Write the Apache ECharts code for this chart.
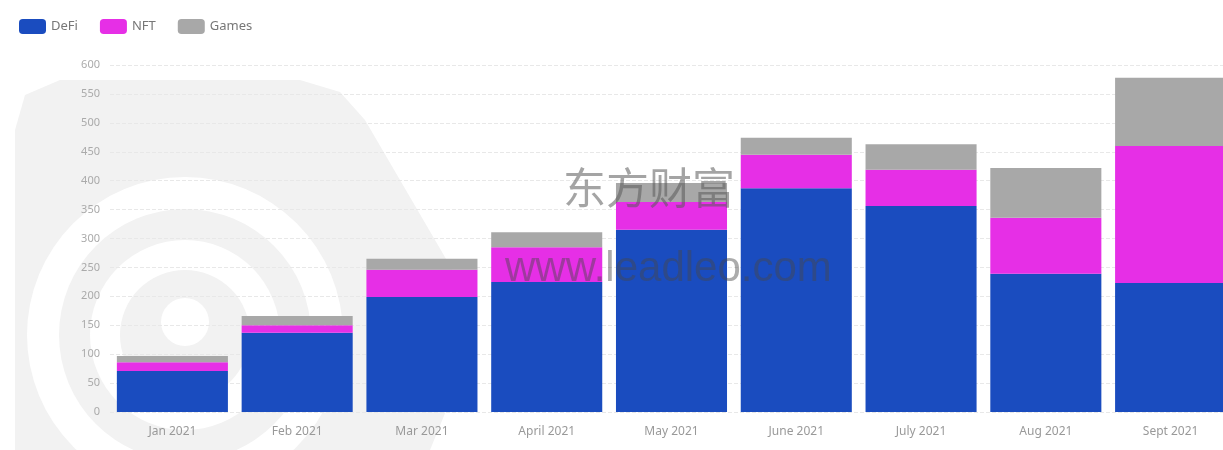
<!DOCTYPE html>
<html lang="zh">
<head>
	<meta charset="UTF-8">
	<title>DeFi NFT Games</title>
	<script src="https://cdn.jsdelivr.net/npm/echarts@6/dist/echarts.min.js"></script>
	<style>
		html, body { margin: 0; padding: 0; background: #fff; }
		#chart { width: 1223px; height: 450px; }
	</style>
</head>
<body>
	<div id="chart"></div>
	<script>
		// 数据
		var months = ['Jan 2021', 'Feb 2021', 'Mar 2021', 'April 2021', 'May 2021', 'June 2021', 'July 2021', 'Aug 2021', 'Sept 2021']
		var defi = [71, 137, 199, 225, 315, 387, 356, 239, 223]
		var nft = [15, 13, 47, 60, 48, 58, 63, 97, 237]
		var games = [11, 16, 19, 26, 33, 29, 44, 86, 118]

		var myChart = echarts.init(document.getElementById('chart'))

		var barStyle = function (name, data, color) {
			return {
				name: name,
				type: 'bar',
				stack: 'total',
				barCategoryGap: '11%',
				data: data,
				itemStyle: { color: color }
			}
		}

		var option = {
			animation: false,
			textStyle: { fontFamily: 'Noto Sans, sans-serif' },
			legend: {
				left: 14,
				top: 14,
				icon: 'roundRect',
				itemWidth: 27,
				itemHeight: 15,
				itemGap: 22,
				textStyle: { color: '#777', fontSize: 13 },
				data: ['DeFi', 'NFT', 'Games']
			},
			// 最后一根柱子被图片右边裁掉
			grid: { left: 110, right: -10, top: 65, bottom: 38, outerBoundsMode: 'none' },
			xAxis: {
				type: 'category',
				data: months,
				axisLine: { show: false },
				axisTick: { show: false },
				axisLabel: { color: '#999', fontSize: 12, margin: 14 }
			},
			yAxis: {
				type: 'value',
				min: 0,
				max: 600,
				interval: 50,
				axisLabel: { color: '#aaa', fontSize: 11, margin: 10 },
				splitLine: { lineStyle: { type: 'dashed', color: '#e8e8e8' } }
			},
			// 背景水印
			graphic: [
				{
					type: 'polygon', z: -10, silent: true,
					shape: {
						points: [[15, 130], [25, 95], [60, 80], [300, 80], [340, 92], [365, 120], [470, 300], [475, 340], [430, 450], [15, 450]]
					},
					style: { fill: '#f2f2f2' }
				},
				{
					type: 'ring', z: -9, silent: true,
					shape: { cx: 185, cy: 335, r: 158, r0: 126 },
					style: { fill: '#fff' }
				},
				{
					type: 'ring', z: -9, silent: true,
					shape: { cx: 185, cy: 335, r: 95, r0: 65 },
					style: { fill: '#fff' }
				},
				{
					type: 'circle', z: -9, silent: true,
					shape: { cx: 185, cy: 322, r: 24 },
					style: { fill: '#fff' }
				},
				{
					type: 'text', z: 100, silent: true,
					left: 563, top: 166,
					style: { text: '东方财富', fontSize: 43, fontFamily: 'Noto Sans CJK SC', fill: 'rgba(90,90,90,0.55)' }
				},
				{
					type: 'text', z: 100, silent: true,
					left: 505, top: 248,
					style: { text: 'www.leadleo.com', fontSize: 42, fontFamily: 'Liberation Sans', fill: 'rgba(70,70,70,0.45)' }
				}
			],
			series: [
				barStyle('DeFi', defi, '#1a4cbf'),
				barStyle('NFT', nft, '#e62fe6'),
				barStyle('Games', games, '#a8a8a8')
			]
		}

		myChart.setOption(option)
	</script>
</body>
</html>
